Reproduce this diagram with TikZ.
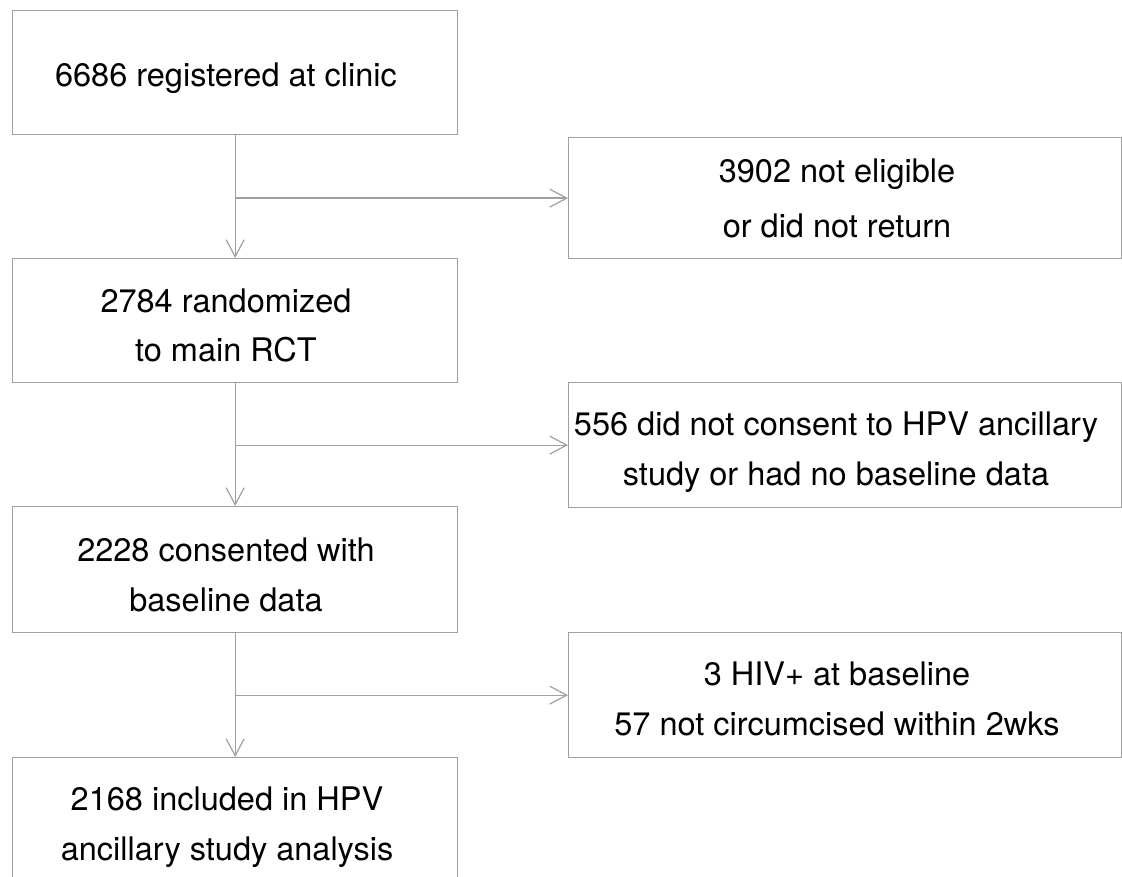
\documentclass[tikz,border=0pt]{standalone}
\usepackage{fontspec}
\setmainfont{TeX Gyre Heros}
\usetikzlibrary{arrows.meta}
\definecolor{linegray}{RGB}{160,160,160}
\begin{document}
\begin{tikzpicture}[x=1pt,y=-1pt,
  box/.style={draw=linegray, line width=1.3pt, fill=white, anchor=north west, inner sep=0pt},
  lbox/.style={box, minimum width=445pt},
  rbox/.style={box, minimum width=553pt},
  txt/.style={align=center, inner sep=0pt, anchor=base, text=black, font=\fontsize{32.5}{50}\selectfont},
  conn/.style={draw=linegray, line width=1.3pt, -{Straight Barb[length=17pt,width=18pt,line width=1.2pt]}}]
\useasboundingbox (0,0) rectangle (1122,877);
\clip (0,0) rectangle (1122,877);
\node[lbox, minimum height=124pt] (b1) at (12,10) {};
\node[lbox, minimum height=124pt] (b2) at (12,258) {};
\node[lbox, minimum height=126pt] (b3) at (12,506) {};
\node[lbox, minimum height=140pt] (b4) at (12,757) {};
\node[rbox, minimum height=121pt] (r1) at (568,137) {};
\node[rbox, minimum height=125pt] (r2) at (568,382) {};
\node[rbox, minimum height=125pt] (r3) at (568,632) {};
% base anchor = baseline of the last line
\node[txt] (t1) at (226,87) {6686 registered at clinic};
\node[txt] (t2) at (226,362) {2784 randomized\\to main RCT};
\node[txt] (t3) at (226,611) {2228 consented with\\baseline data};
\node[txt] (t4) at (227,860) {2168 included in HPV\\ancillary study analysis};
\node[txt, font=\fontsize{32.5}{55}\selectfont] (u1) at (837,238) {3902 not eligible\\or did not return};
\node[txt] (u2) at (836,485) {556 did not consent to HPV ancillary\\study or had no baseline data};
\node[txt] (u3) at (837,735) {3 HIV+ at baseline\\57 not circumcised within 2wks};
\coordinate (j1) at (b1.south |- r1.west);
\coordinate (j2) at (b2.south |- r2.west);
\coordinate (j3) at (b3.south |- r3.west);
\draw[conn] (b1.south) -- (b2.north);
\draw[conn] (b2.south) -- (b3.north);
\draw[conn] (b3.south) -- (b4.north);
\draw[conn] (j1) -- (r1.west);
\draw[conn] (j2) -- (r2.west);
\draw[conn] (j3) -- (r3.west);
\end{tikzpicture}
\end{document}
